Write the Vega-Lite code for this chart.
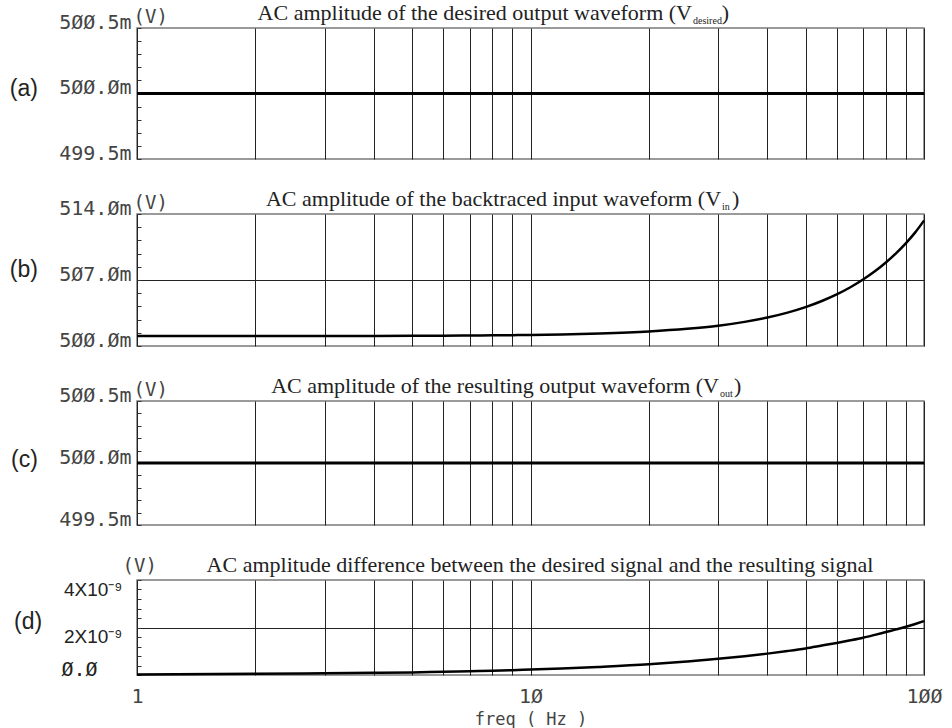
{
  "$schema": "https://vega.github.io/schema/vega-lite/v6.json",
  "background": "white",
  "padding": {"left": 9, "top": 1, "right": 5, "bottom": 0},
  "spacing": 55,
  "bounds": "flush",
  "config": {
    "view": {"stroke": "#7a7a7a", "strokeWidth": 1.5},
    "axis": {
      "domain": false,
      "gridColor": "#222222",
      "gridWidth": 1,
      "labelFont": "DejaVu Sans Mono",
      "labelFontSize": 20,
      "labelColor": "#444444",
      "labelOverlap": false,
      "labelFlush": false,
      "titleFont": "DejaVu Sans Mono",
      "titleFontWeight": "normal",
      "titleColor": "#444444"
    },
    "text": {"color": "#222222"}
  },
  "datasets": {
    "vdesired": [{"f": 1, "v": 500.0}, {"f": 10, "v": 500.0}, {"f": 100, "v": 500.0}],
    "vin": [
      {"f": 1, "v": 501.05}, {"f": 2, "v": 501.06}, {"f": 3, "v": 501.06}, {"f": 4, "v": 501.07},
      {"f": 5, "v": 501.08}, {"f": 6, "v": 501.09}, {"f": 7, "v": 501.11}, {"f": 8, "v": 501.13},
      {"f": 9, "v": 501.15}, {"f": 10, "v": 501.17}, {"f": 12, "v": 501.23}, {"f": 15, "v": 501.33},
      {"f": 20, "v": 501.54}, {"f": 25, "v": 501.82}, {"f": 30, "v": 502.15}, {"f": 35, "v": 502.56},
      {"f": 40, "v": 503.02}, {"f": 45, "v": 503.54}, {"f": 50, "v": 504.12}, {"f": 55, "v": 504.77},
      {"f": 60, "v": 505.47}, {"f": 65, "v": 506.23}, {"f": 70, "v": 507.05}, {"f": 75, "v": 507.92},
      {"f": 80, "v": 508.86}, {"f": 85, "v": 509.85}, {"f": 90, "v": 510.91}, {"f": 95, "v": 512.05},
      {"f": 100, "v": 513.3}
    ],
    "vout": [{"f": 1, "v": 500.0}, {"f": 10, "v": 500.0}, {"f": 100, "v": 500.0}],
    "diff": [
      {"f": 1, "v": 0.02}, {"f": 2, "v": 0.05}, {"f": 3, "v": 0.07}, {"f": 4, "v": 0.09},
      {"f": 5, "v": 0.11}, {"f": 6, "v": 0.14}, {"f": 7, "v": 0.16}, {"f": 8, "v": 0.18},
      {"f": 9, "v": 0.2}, {"f": 10, "v": 0.23}, {"f": 12, "v": 0.27}, {"f": 15, "v": 0.34},
      {"f": 20, "v": 0.45}, {"f": 25, "v": 0.57}, {"f": 30, "v": 0.68}, {"f": 35, "v": 0.79},
      {"f": 40, "v": 0.9}, {"f": 45, "v": 1.01}, {"f": 50, "v": 1.12}, {"f": 55, "v": 1.24},
      {"f": 60, "v": 1.35}, {"f": 65, "v": 1.46}, {"f": 70, "v": 1.57}, {"f": 75, "v": 1.69},
      {"f": 80, "v": 1.81}, {"f": 85, "v": 1.92}, {"f": 90, "v": 2.03}, {"f": 95, "v": 2.15},
      {"f": 100, "v": 2.27}
    ]
  },
  "vconcat": [
    {
      "width": 787,
      "height": 131,
      "layer": [
        {
          "data": {"name": "vdesired"},
          "mark": {"type": "line", "color": "black", "strokeWidth": 3},
          "encoding": {
            "x": {"field": "f", "type": "quantitative",
              "scale": {"type": "log", "domain": [1, 100], "nice": false},
              "axis": {"values": [1,2,3,4,5,6,7,8,9,10,20,30,40,50,60,70,80,90,100], "tickCount": 40, "labels": false, "ticks": false, "grid": true, "title": null}},
            "y": {"field": "v", "type": "quantitative",
              "scale": {"domain": [499.5, 500.5], "nice": false, "zero": false},
              "axis": {
                "values": [499.5,499.6,499.7,499.8,499.9,500,500.1,500.2,500.3,500.4,500.5],
                "tickCount": 40,
                "labelOverlap": false,
                "labelExpr": "datum.value==500.5?'5ØØ.5m':datum.value==500?'5ØØ.Øm':datum.value==499.5?'499.5m':''",
                "labelBaseline": "alphabetic",
                "labelPadding": 10,
                "tickSize": -4, "tickColor": "#333333", "tickWidth": 1,
                "grid": true,
                "gridOpacity": {"condition": {"test": "datum.value==500", "value": 1}, "value": 0},
                "title": "(V)", "titleAngle": 0, "titleX": -4, "titleY": -6,
                "titleAlign": "left", "titleBaseline": "alphabetic", "titleFontSize": 19
              }}
          }
        },
        {
          "data": {"values": [{}]},
          "mark": {"type": "text", "align": "right", "baseline": "alphabetic", "font": "Liberation Serif", "fontSize": 22, "dy": -8, "text": "AC amplitude of the desired output waveform (V"},
          "encoding": {"x": {"datum": 25.73}, "y": {"datum": 500.5}}
        },
        {
          "data": {"values": [{}]},
          "mark": {"type": "text", "align": "left", "baseline": "alphabetic", "font": "Liberation Serif", "fontSize": 10, "dx": 1, "dy": -4, "text": "desired"},
          "encoding": {"x": {"datum": 25.73}, "y": {"datum": 500.5}}
        },
        {
          "data": {"values": [{}]},
          "mark": {"type": "text", "align": "left", "baseline": "alphabetic", "font": "Liberation Serif", "fontSize": 22, "dy": -8, "text": ")"},
          "encoding": {"x": {"datum": 30.6}, "y": {"datum": 500.5}}
        },
        {
          "data": {"values": [{}]},
          "mark": {"type": "text", "align": "right", "baseline": "alphabetic", "font": "Liberation Sans", "fontSize": 23, "dy": 2, "text": "(a)"},
          "encoding": {"x": {"datum": 0.56}, "y": {"datum": 500.0}}
        }
      ]
    },
    {
      "width": 787,
      "height": 132,
      "layer": [
        {
          "data": {"name": "vin"},
          "mark": {"type": "line", "color": "black", "strokeWidth": 2.5, "interpolate": "monotone"},
          "encoding": {
            "x": {"field": "f", "type": "quantitative",
              "scale": {"type": "log", "domain": [1, 100], "nice": false},
              "axis": {"values": [1,2,3,4,5,6,7,8,9,10,20,30,40,50,60,70,80,90,100], "tickCount": 40, "labels": false, "ticks": false, "grid": true, "title": null}},
            "y": {"field": "v", "type": "quantitative",
              "scale": {"domain": [500, 514], "nice": false, "zero": false},
              "axis": {
                "values": [500,501.4,502.8,504.2,505.6,507,508.4,509.8,511.2,512.6,514],
                "tickCount": 40,
                "labelOverlap": false,
                "labelExpr": "datum.value==514?'514.Øm':datum.value==507?'5Ø7.Øm':datum.value==500?'5ØØ.Øm':''",
                "labelBaseline": "alphabetic",
                "labelPadding": 10,
                "tickSize": -4, "tickColor": "#333333", "tickWidth": 1,
                "grid": true,
                "gridOpacity": {"condition": {"test": "datum.value==507", "value": 1}, "value": 0},
                "title": "(V)", "titleAngle": 0, "titleX": -4, "titleY": -6,
                "titleAlign": "left", "titleBaseline": "alphabetic", "titleFontSize": 19
              }}
          }
        },
        {
          "data": {"values": [{}]},
          "mark": {"type": "text", "align": "right", "baseline": "alphabetic", "font": "Liberation Serif", "fontSize": 22, "dy": -8, "text": "AC amplitude of the backtraced input waveform (V"},
          "encoding": {"x": {"datum": 30.5}, "y": {"datum": 514}}
        },
        {
          "data": {"values": [{}]},
          "mark": {"type": "text", "align": "left", "baseline": "alphabetic", "font": "Liberation Serif", "fontSize": 10, "dx": 1, "dy": -4, "text": "in"},
          "encoding": {"x": {"datum": 30.5}, "y": {"datum": 514}}
        },
        {
          "data": {"values": [{}]},
          "mark": {"type": "text", "align": "left", "baseline": "alphabetic", "font": "Liberation Serif", "fontSize": 22, "dy": -8, "text": ")"},
          "encoding": {"x": {"datum": 32.5}, "y": {"datum": 514}}
        },
        {
          "data": {"values": [{}]},
          "mark": {"type": "text", "align": "right", "baseline": "alphabetic", "font": "Liberation Sans", "fontSize": 23, "dy": -3, "text": "(b)"},
          "encoding": {"x": {"datum": 0.56}, "y": {"datum": 507}}
        }
      ]
    },
    {
      "width": 787,
      "height": 124,
      "layer": [
        {
          "data": {"name": "vout"},
          "mark": {"type": "line", "color": "black", "strokeWidth": 3},
          "encoding": {
            "x": {"field": "f", "type": "quantitative",
              "scale": {"type": "log", "domain": [1, 100], "nice": false},
              "axis": {"values": [1,2,3,4,5,6,7,8,9,10,20,30,40,50,60,70,80,90,100], "tickCount": 40, "labels": false, "ticks": false, "grid": true, "title": null}},
            "y": {"field": "v", "type": "quantitative",
              "scale": {"domain": [499.5, 500.5], "nice": false, "zero": false},
              "axis": {
                "values": [499.5,499.6,499.7,499.8,499.9,500,500.1,500.2,500.3,500.4,500.5],
                "tickCount": 40,
                "labelOverlap": false,
                "labelExpr": "datum.value==500.5?'5ØØ.5m':datum.value==500?'5ØØ.Øm':datum.value==499.5?'499.5m':''",
                "labelBaseline": "alphabetic",
                "labelPadding": 10,
                "tickSize": -4, "tickColor": "#333333", "tickWidth": 1,
                "grid": true,
                "gridOpacity": {"condition": {"test": "datum.value==500", "value": 1}, "value": 0},
                "title": "(V)", "titleAngle": 0, "titleX": -4, "titleY": -6,
                "titleAlign": "left", "titleBaseline": "alphabetic", "titleFontSize": 19
              }}
          }
        },
        {
          "data": {"values": [{}]},
          "mark": {"type": "text", "align": "right", "baseline": "alphabetic", "font": "Liberation Serif", "fontSize": 22, "dy": -8, "text": "AC amplitude of the resulting output waveform (V"},
          "encoding": {"x": {"datum": 30.13}, "y": {"datum": 500.5}}
        },
        {
          "data": {"values": [{}]},
          "mark": {"type": "text", "align": "left", "baseline": "alphabetic", "font": "Liberation Serif", "fontSize": 10, "dx": 1, "dy": -4, "text": "out"},
          "encoding": {"x": {"datum": 30.13}, "y": {"datum": 500.5}}
        },
        {
          "data": {"values": [{}]},
          "mark": {"type": "text", "align": "left", "baseline": "alphabetic", "font": "Liberation Serif", "fontSize": 22, "dy": -8, "text": ")"},
          "encoding": {"x": {"datum": 32.9}, "y": {"datum": 500.5}}
        },
        {
          "data": {"values": [{}]},
          "mark": {"type": "text", "align": "right", "baseline": "alphabetic", "font": "Liberation Sans", "fontSize": 23, "dy": 4, "text": "(c)"},
          "encoding": {"x": {"datum": 0.56}, "y": {"datum": 500.0}}
        }
      ]
    },
    {
      "width": 787,
      "height": 95,
      "layer": [
        {
          "data": {"name": "diff"},
          "mark": {"type": "line", "color": "black", "strokeWidth": 2.5, "interpolate": "monotone"},
          "encoding": {
            "x": {"field": "f", "type": "quantitative",
              "scale": {"type": "log", "domain": [1, 100], "nice": false},
              "axis": {"values": [1,2,3,4,5,6,7,8,9,10,20,30,40,50,60,70,80,90,100],
                "tickCount": 40,
                "labelExpr": "datum.value==1?'1':datum.value==10?'1Ø':datum.value==100?'1ØØ':''",
                "labelPadding": 11, "labelAlign": "center", "labelBaseline": "top",
                "ticks": false, "grid": true,
                "title": "freq ( Hz )", "titleFontSize": 17, "titlePadding": 5}},
            "y": {"field": "v", "type": "quantitative",
              "scale": {"domain": [0, 4], "nice": false, "zero": false},
              "axis": {
                "values": [0,0.4,0.8,1.2,1.6,2,2.4,2.8,3.2,3.6,4],
                "tickCount": 40,
                "labelOverlap": false,
                "labelExpr": "datum.value==4?'4X10⁻⁹':datum.value==2?'2X10⁻⁹':datum.value==0?'Ø.Ø':''",
                "labelFont": {"condition": {"test": "datum.value==0", "value": "DejaVu Sans Mono"}, "value": "Liberation Sans"},
                "labelFontSize": {"condition": {"test": "datum.value==0", "value": 20}, "value": 19},
                "labelColor": "#222222",
                "labelBaseline": {"condition": {"test": "datum.value==0", "value": "alphabetic"}, "value": "top"},
                "labelPadding": {"condition": {"test": "datum.value==0", "value": 44}, "value": 19},
                "tickSize": -4, "tickColor": "#333333", "tickWidth": 1,
                "grid": true,
                "gridOpacity": {"condition": {"test": "datum.value==2", "value": 1}, "value": 0},
                "title": "(V)", "titleAngle": 0, "titleX": -15, "titleY": -9,
                "titleAlign": "left", "titleBaseline": "alphabetic", "titleFontSize": 19
              }}
          }
        },
        {
          "data": {"values": [{}]},
          "mark": {"type": "text", "align": "center", "baseline": "alphabetic", "font": "Liberation Serif", "fontSize": 22, "dy": -8, "text": "AC amplitude difference between the desired signal and the resulting signal"},
          "encoding": {"x": {"datum": 10.57}, "y": {"datum": 4}}
        },
        {
          "data": {"values": [{}]},
          "mark": {"type": "text", "align": "right", "baseline": "alphabetic", "font": "Liberation Sans", "fontSize": 23, "dy": 1, "text": "(d)"},
          "encoding": {"x": {"datum": 0.574}, "y": {"datum": 2}}
        }
      ]
    }
  ]
}
